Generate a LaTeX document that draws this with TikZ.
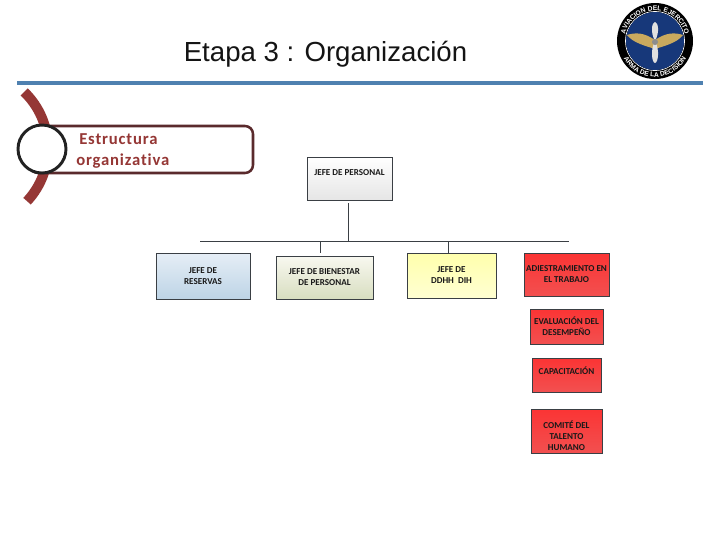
\documentclass[tikz,border=0pt]{standalone}
\usepackage{fontspec}
\setmainfont{Liberation Sans}
\newfontfamily\calibrifont{Carlito}
\newfontfamily\spacedfont[LetterSpace=5,Ligatures=CommonOff]{Carlito}
\usetikzlibrary{arrows.meta,shadows,decorations.text}

\definecolor{rulecolor}{HTML}{4F81B0}
\definecolor{bandcolor}{HTML}{953735}
\definecolor{framecolor}{HTML}{5A2A2C}
\definecolor{ringcolor}{HTML}{222222}
\definecolor{discblue}{HTML}{17387A}
\definecolor{wingcolor}{HTML}{C9A95E}
\definecolor{boxline}{HTML}{3A3F44}
\definecolor{bluetop}{HTML}{E6EEF6}
\definecolor{bluebottom}{HTML}{BDD4E6}
\definecolor{greentop}{HTML}{F8F8F0}
\definecolor{greenbottom}{HTML}{D8DEC0}
\definecolor{yellowtop}{HTML}{FFFFAC}
\definecolor{yellowbottom}{HTML}{FFFFD2}
\definecolor{redtop}{HTML}{FB3434}
\definecolor{redbottom}{HTML}{F25050}

\newcommand{\movedtext}[2]{\raisebox{#1}[0pt][0pt]{\begin{tabular}{@{}c@{}}#2\end{tabular}}}

\tikzset{
	orgbox/.style={draw=boxline, line width=0.6pt, inner sep=0pt, align=center, text=black!90,
		font=\calibrifont\bfseries\fontsize{6.8}{8.3}\selectfont,
		drop shadow={shadow xshift=0.8pt, shadow yshift=-0.8pt, opacity=0.18}},
	bossbox/.style={orgbox, top color=white, bottom color=black!10},
	bluebox/.style={orgbox, top color=bluetop, bottom color=bluebottom},
	greenbox/.style={orgbox, top color=greentop, bottom color=greenbottom},
	yellowbox/.style={orgbox, top color=yellowtop, bottom color=yellowbottom},
	redbox/.style={orgbox, top color=redtop, bottom color=redbottom},
	orgline/.style={draw=boxline, line width=0.75pt},
	headtext/.style={text=bandcolor, font=\spacedfont\bfseries\fontsize{12.5}{14}\selectfont, inner sep=0pt}
}

\begin{document}
\begin{tikzpicture}[x=0.75pt, y=-0.75pt]
	\useasboundingbox (0,0) rectangle (720,540);
	\fill[white] (0,0) rectangle (720,540);

	% title and rule
	\node[font=\fontsize{20.7}{24}\selectfont, text=black!92, inner sep=0pt] (title) at (325.5,54) {Etapa 3 : Organización};
	\fill[rulecolor] (17,81) rectangle (703,85);

	% crest
	\fill[black] (655,41) circle (38);
	\draw[white, line width=0.5pt] (655,41) circle (29.5);
	\fill[discblue] (655,41) circle (29);
	\path[decorate, decoration={text along path, text align=center,
		text={|\bfseries\color{white}\fontsize{5}{6}\selectfont|AVIACION DEL EJERCITO}}]
		(655,41) ++(-180:30.5) arc (-180:0:30.5);
	\path[decorate, decoration={text along path, text align=center,
		text={|\bfseries\color{white}\fontsize{5}{6}\selectfont|ARMA DE LA DECISION}}]
		(655,41) ++(175:36) arc (175:5:36);
	\fill[wingcolor] (655,40) .. controls (645,33) and (636,32) .. (627,35) .. controls (633,43) and (646,46) .. (655,49)
		.. controls (664,46) and (677,43) .. (683,35) .. controls (674,32) and (665,33) .. (655,40) -- cycle;
	\fill[black!12] (655,41) .. controls (650,32) and (652,22) .. (655,22) .. controls (658,22) and (660,32) .. (655,41)
		.. controls (660,50) and (658,63) .. (655,63) .. controls (652,63) and (650,50) .. (655,41) -- cycle;
	\fill[black!45] (655,42) circle (3);

	% section tab
	\draw[bandcolor, line width=7.5pt] (-30,148) ++(-46:78) arc (-46:43:78);
	\draw[framecolor, line width=1.9pt, fill=white, rounded corners=6pt] (30,126) rectangle (253,173);
	\node[draw=ringcolor, line width=2.2pt, fill=white, circle, minimum size=36pt, inner sep=0pt] (ring) at (42,149) {};
	\node[headtext, anchor=west] (headone) at (79,139.5) {Estructura};
	\node[headtext, anchor=west] (headtwo) at (76,161) {organizativa};

	% chart
	\node[bossbox, minimum width=63.75pt, minimum height=32.25pt] (personal) at (349.5,178.5) {\movedtext{1.9pt}{JEFE DE PERSONAL}};
	\node[bluebox, minimum width=70.5pt, minimum height=34.5pt] (reservas) at (203,276) {JEFE DE\\RESERVAS};
	\node[greenbox, minimum width=72.75pt, minimum height=32.25pt] (bienestar) at (324.5,277.5) {JEFE DE BIENESTAR\\DE PERSONAL};
	\node[yellowbox, minimum width=66.75pt, minimum height=33.75pt] (ddhh) at (451.5,275.5) {JEFE DE\\DDHH~ DIH};
	\node[redbox, minimum width=63.75pt, minimum height=32.25pt] (adiestramiento) at (566.5,274.5) {ADIESTRAMIENTO EN\\EL TRABAJO};
	\node[redbox, minimum width=54.75pt, minimum height=26.25pt] (evaluacion) at (566.5,326.5) {EVALUACIÓN DEL\\DESEMPEÑO};
	\node[redbox, minimum width=51.75pt, minimum height=25.5pt] (capacitacion) at (566.5,375) {\movedtext{0pt}{CAPACITACIÓN}};
	\node[redbox, minimum width=53.25pt, minimum height=33pt] (comite) at (566.5,431) {\movedtext{-6.5pt}{COMITÉ DEL\\TALENTO\\HUMANO}};

	\coordinate (busleft) at (200,241);
	\coordinate (busright) at (569,241);
	\coordinate (tapboss) at (348,241);
	\coordinate (tapgreen) at (320.5,241);
	\coordinate (tapyellow) at (448,241);
	\draw[orgline] (busleft) -- (busright);
	\draw[orgline, shorten >=2.25pt] (tapboss) -- (tapboss |- personal.south);
	\draw[orgline, shorten >=2.25pt] (tapgreen) -- (tapgreen |- bienestar.north);
	\draw[orgline] (tapyellow) -- (tapyellow |- ddhh.north);
\end{tikzpicture}
\end{document}
